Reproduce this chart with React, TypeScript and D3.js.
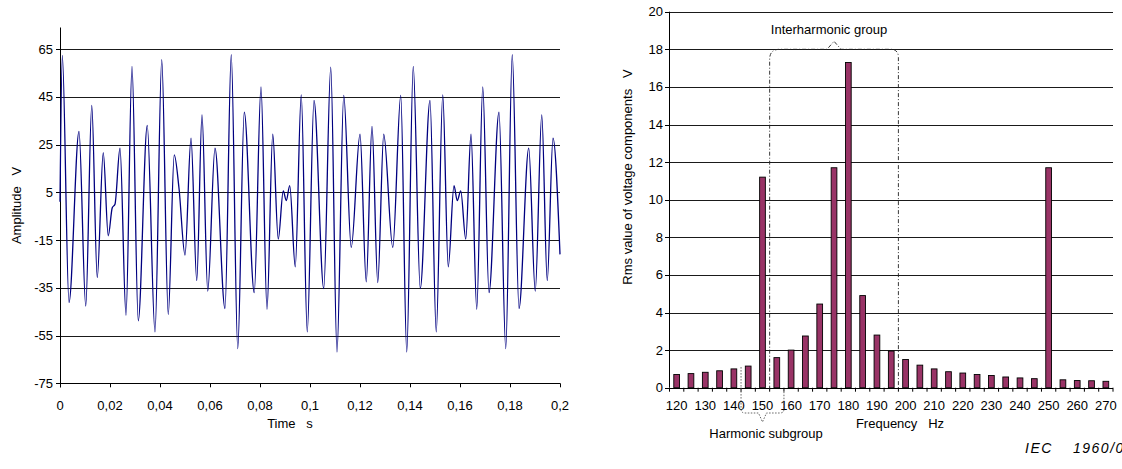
import React from "react";
import * as d3 from "d3";

// ---------- Left chart: waveform (extrema) ----------
const waveTime = [
  0, 0.00093, 0.0036, 0.0076, 0.0103, 0.0127, 0.0149, 0.0173, 0.0193, 0.0209, 0.022,
  0.024, 0.0264, 0.0288, 0.0313, 0.0349, 0.038, 0.0407, 0.0433, 0.0457, 0.0476,
  0.05, 0.0524, 0.0547, 0.0568, 0.0591, 0.062, 0.066, 0.0685, 0.0711, 0.0737,
  0.0777, 0.0804, 0.0828, 0.0851, 0.0873, 0.0893, 0.0905, 0.0919, 0.0941, 0.0965,
  0.0989, 0.1016, 0.1055, 0.1083, 0.1108, 0.1135, 0.1165, 0.12, 0.1225, 0.1248,
  0.1271, 0.1295, 0.1331, 0.1363, 0.1387, 0.1413, 0.1441, 0.148, 0.1505, 0.1531,
  0.1553, 0.1576, 0.1589, 0.1603, 0.1623, 0.1644, 0.1667, 0.1691, 0.1716, 0.1756,
  0.1783, 0.1809, 0.1836, 0.1875, 0.1901, 0.1927, 0.1949, 0.1972, 0.2,
];
const waveAmp = [
  1, 62.3, -41.2, 30.5, -42.7, 41.4, -30.7, 21.6, -13.2, -1.5, 0,
  23.5, -46.5, 57.7, -48.8, 33, -53.5, 60.5, -46.2, 20.7, 6.7,
  -21.3, 27.7, -32, 37.4, -36.4, 23.5, -43.7, 62.6, -60.5, 38.6,
  -37, 49.1, -44, 29.3, -14.6, 5.6, 1.5, 7.8, -26.2, 45.8,
  -53.5, 43.5, -35.3, 57.4, -61.9, 45.6, -18.1, 29.3, -32.5, 32.6,
  -32.8, 29.3, -18.1, 45.6, -61.9, 57.7, -35.3, 43.5, -53.5, 45.8,
  -26.2, 7.8, 1.5, 5.6, -14.6, 29.3, -44, 49.1, -37, 38.6,
  -60.5, 62.6, -43.7, 23.5, -36.4, 37.4, -32, 27.7, -21,
];
const timeTicks = [0, 0.02, 0.04, 0.06, 0.08, 0.1, 0.12, 0.14, 0.16, 0.18, 0.2];
const timeTickLabels = ["0", "0,02", "0,04", "0,06", "0,08", "0,1", "0,12", "0,14", "0,16", "0,18", "0,2"];
const ampTicks = [65, 45, 25, 5, -15, -35, -55, -75];

// ---------- Right chart: spectrum ----------
const freqs = [
  120, 125, 130, 135, 140, 145, 150, 155, 160, 165, 170, 175, 180, 185, 190, 195,
  200, 205, 210, 215, 220, 225, 230, 235, 240, 245, 250, 255, 260, 265, 270,
];
const rmsValues = [
  0.7, 0.75, 0.82, 0.9, 1.0, 1.15, 11.2, 1.6, 2.0, 2.75, 4.45, 11.7, 17.3, 4.9, 2.8, 1.95,
  1.5, 1.2, 1.0, 0.85, 0.78, 0.7, 0.65, 0.57, 0.52, 0.48, 11.7, 0.42, 0.38, 0.37, 0.34,
];
const rmsTicks = [0, 2, 4, 6, 8, 10, 12, 14, 16, 18, 20];
const freqLabelCats = [120, 130, 140, 150, 160, 170, 180, 190, 200, 210, 220, 230, 240, 250, 260, 270];

const FONT = "'Liberation Sans', Arial, sans-serif";
const GRID = "#1a1a1a";

export default function App() {
  // left scales
  const xL = d3.scaleLinear().domain([0, 0.2]).range([60, 560]);
  const yL = d3.scaleLinear().domain([-75, 65]).range([383.3, 49]);
  const waveData = waveTime.map((t, i) => [t, waveAmp[i]] as [number, number]);
  const linePath = d3
    .line<[number, number]>()
    .x((d) => xL(d[0]))
    .y((d) => yL(d[1]))
    .curve(d3.curveMonotoneX)(waveData) as string;

  // right scales
  const yR = d3.scaleLinear().domain([0, 20]).range([387.7, 11.7]);
  const xR = d3
    .scaleBand<number>()
    .domain(freqs)
    .range([669.5, 1113])
    .paddingInner(0.6)
    .paddingOuter(0.3);
  const step = xR.step();
  const bw = xR.bandwidth();
  const center = (f: number) => (xR(f) as number) + bw / 2;
  const leftEdge = (f: number) => center(f) - step / 2;
  const rightEdge = (f: number) => center(f) + step / 2;
  const x0R = xR.range()[0];
  const x1R = xR.range()[1];
  const base = yR(0);

  // annotation geometry from scales
  const ihL = rightEdge(150);
  const ihR = rightEdge(195);
  const ihTop = yR(18);
  const ihMid = (ihL + ihR) / 2;
  const ihPath = `M${ihL},${base + 2} L${ihL},${ihTop + 10} Q${ihL},${ihTop} ${ihL + 10},${ihTop} L${ihMid - 7},${ihTop} L${ihMid},${ihTop - 8} L${ihMid + 7},${ihTop} L${ihR - 8},${ihTop} Q${ihR},${ihTop} ${ihR},${ihTop + 8} L${ihR},${base + 1}`;

  const hsL = leftEdge(145);
  const hsR = rightEdge(155);
  const hsMid = center(150);
  const hsBot = 413;
  const hsPath = `M${hsL},${yR(1.15) + 1} L${hsL},${hsBot - 4} Q${hsL},${hsBot} ${hsL + 4},${hsBot} L${hsMid - 4},${hsBot} L${hsMid},${hsBot + 9} L${hsMid + 4},${hsBot} L${hsR - 4},${hsBot} Q${hsR},${hsBot} ${hsR},${hsBot - 4} L${hsR},${base + 2}`;

  return (
    <svg
      width={1122}
      height={469}
      style={{ position: "absolute", left: 0, top: 0, background: "#fff" }}
      fontFamily={FONT}
    >
      {/* ===== Left chart ===== */}
      <g>
        {ampTicks
          .filter((v) => v !== -75)
          .map((v) => (
            <line
              key={"gl" + v}
              x1={xL(0)}
              x2={xL(0.2)}
              y1={Math.round(yL(v)) + 0.5}
              y2={Math.round(yL(v)) + 0.5}
              stroke={GRID}
              strokeWidth={1}
            />
          ))}
        {/* y axis */}
        <line x1={60.5} x2={60.5} y1={yL(74)} y2={yL(-75) + 4} stroke="#000" />
        {ampTicks.map((v) => (
          <g key={"yl" + v}>
            <line x1={56} x2={60.5} y1={Math.round(yL(v)) + 0.5} y2={Math.round(yL(v)) + 0.5} stroke="#000" />
            <text x={53} y={yL(v)} dy="0.35em" textAnchor="end" fontSize={13} fill="#000">
              {v}
            </text>
          </g>
        ))}
        {/* x axis */}
        <line x1={xL(0)} x2={xL(0.2)} y1={Math.round(yL(-75)) + 0.5} y2={Math.round(yL(-75)) + 0.5} stroke="#000" />
        {timeTicks.map((t, i) => (
          <g key={"xt" + i}>
            <line
              x1={Math.round(xL(t)) + 0.5}
              x2={Math.round(xL(t)) + 0.5}
              y1={yL(-75)}
              y2={yL(-75) + 4}
              stroke="#000"
            />
            <text x={xL(t)} y={405} dy="0.35em" textAnchor="middle" fontSize={13} fill="#000">
              {timeTickLabels[i]}
            </text>
          </g>
        ))}
        <path d={linePath} fill="none" stroke="#000080" strokeWidth={1.3} />
        <text x={290} y={423} dy="0.35em" textAnchor="middle" fontSize={13} xmlSpace="preserve">
          {"Time   s"}
        </text>
        <text
          transform={`translate(16,${(yL(74) + yL(-75)) / 2}) rotate(-90)`}
          textAnchor="middle"
          dy="0.35em"
          fontSize={13}
          xmlSpace="preserve"
        >
          {"Amplitude   V"}
        </text>
      </g>

      {/* ===== Right chart ===== */}
      <g>
        {rmsTicks
          .filter((v) => v !== 0)
          .map((v) => (
            <line
              key={"gr" + v}
              x1={x0R}
              x2={x1R}
              y1={Math.round(yR(v)) + 0.5}
              y2={Math.round(yR(v)) + 0.5}
              stroke={GRID}
            />
          ))}
        {freqs.map((f, i) => (
          <rect
            key={"b" + f}
            x={xR(f)}
            y={yR(rmsValues[i])}
            width={bw}
            height={base - yR(rmsValues[i])}
            fill="#993366"
            stroke="#000"
            strokeWidth={0.9}
          />
        ))}
        {/* y axis */}
        <line x1={669.5} x2={669.5} y1={yR(20)} y2={base} stroke="#000" />
        {rmsTicks.map((v) => (
          <g key={"yr" + v}>
            <line x1={665} x2={669.5} y1={Math.round(yR(v)) + 0.5} y2={Math.round(yR(v)) + 0.5} stroke="#000" />
            <text x={663} y={yR(v)} dy="0.35em" textAnchor="end" fontSize={13}>
              {v}
            </text>
          </g>
        ))}
        {/* x axis */}
        <line x1={x0R} x2={x1R} y1={Math.round(base) + 0.5} y2={Math.round(base) + 0.5} stroke="#000" />
        {freqs.map((f) => (
          <line
            key={"xtk" + f}
            x1={leftEdge(f)}
            x2={leftEdge(f)}
            y1={base}
            y2={base + 4}
            stroke="#000"
          />
        ))}
        <line x1={x1R} x2={x1R} y1={base} y2={base + 4} stroke="#000" />
        {freqLabelCats.map((f) => (
          <text key={"xl" + f} x={center(f)} y={405} dy="0.35em" textAnchor="middle" fontSize={13}>
            {f}
          </text>
        ))}
        {/* annotations */}
        <path d={ihPath} fill="none" stroke="#222" strokeWidth={0.9} strokeDasharray="4,2,1,2" />
        <text x={829} y={29} dy="0.35em" textAnchor="middle" fontSize={13}>
          Interharmonic group
        </text>
        <path d={hsPath} fill="none" stroke="#555" strokeWidth={0.9} strokeDasharray="1.5,1.5" />
        <text x={766} y={433} dy="0.35em" textAnchor="middle" fontSize={13}>
          Harmonic subgroup
        </text>
        <text x={900} y={423} dy="0.35em" textAnchor="middle" fontSize={13} xmlSpace="preserve">
          {"Frequency   Hz"}
        </text>
        <text
          transform={`translate(627,177) rotate(-90)`}
          textAnchor="middle"
          dy="0.35em"
          fontSize={13}
          xmlSpace="preserve"
        >
          {"Rms value of voltage components   V"}
        </text>
        <text x={1025} y={448} dy="0.35em" fontSize={14} fontStyle="italic" letterSpacing={1.5}>
          IEC
        </text>
        <text x={1073} y={448} dy="0.35em" fontSize={14} fontStyle="italic" letterSpacing={1.5}>
          1960/02
        </text>
      </g>
    </svg>
  );
}
